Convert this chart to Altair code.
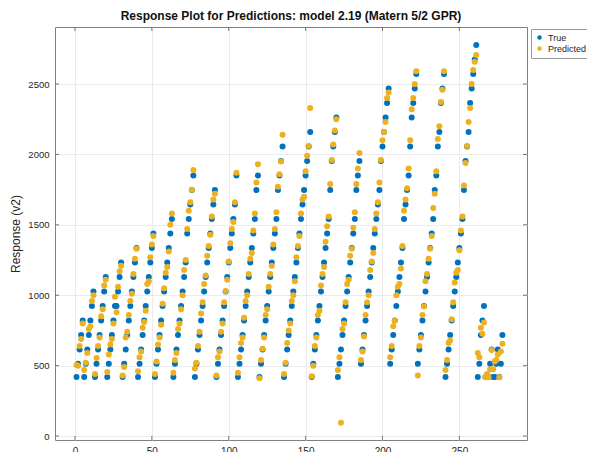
import altair as alt
import pandas as pd

# True response per record, group by group (record numbers run 1..N)
true_vals = [
    420, 513, 615, 718, 821,
    420, 513, 615, 718, 821, 923, 1026,
    420, 513, 615, 718, 821, 923, 1026, 1129,
    420, 513, 615, 718, 821, 923, 923, 1026, 1129, 1232,
    420, 513, 615, 718, 821, 923, 1026, 1129, 1232, 1335,
    420, 513, 615, 718, 821, 923, 1026, 1129, 1232, 1335, 1438,
    420, 513, 615, 718, 821, 923, 1026, 1129, 1232, 1335, 1438, 1541,
    420, 513, 615, 718, 821, 923, 1026, 1129, 1232, 1438, 1541, 1644, 1747, 1850,
    420, 513, 615, 718, 821, 923, 1026, 1129, 1232, 1335, 1438, 1541, 1644, 1747,
    420, 513, 615, 718, 821, 923, 1026, 1129, 1232, 1335, 1438, 1541, 1644, 1850,
    420, 513, 615, 718, 821, 923, 1026, 1129, 1232, 1335, 1438, 1541, 1747, 1850,
    420, 513, 615, 718, 821, 923, 1026, 1129, 1232, 1335, 1438, 1541, 1747, 1850, 1953, 2056,
    420, 513, 615, 718, 821, 923, 1026, 1129, 1232, 1335, 1438, 1541, 1644, 1747, 1850, 1953, 2056, 2159,
    420, 513, 615, 718, 821, 923, 1026, 1129, 1232, 1335, 1438, 1541, 1747, 1953, 2056, 2159, 2262,
    420, 513, 615, 718, 821, 923, 1026, 1129, 1232, 1335, 1438, 1541, 1747, 1850, 1953,
    513, 615, 718, 821, 923, 1026, 1129, 1232, 1335, 1438, 1541, 1644, 1747, 1953, 2056, 2159, 2262, 2365, 2468,
    513, 615, 718, 821, 923, 1026, 1129, 1232, 1335, 1541, 1644, 1747, 1850, 2056, 2262, 2365, 2468, 2571,
    513, 615, 718, 821, 923, 1026, 1129, 1232, 1335, 1438, 1541, 1747, 1850, 2056, 2159, 2365, 2468, 2571,
    420, 513, 615, 718, 821, 923, 1026, 1129, 1232, 1335, 1438, 1541, 1747, 1953, 2056, 2159, 2365, 2468, 2571, 2674, 2777,
    420, 513, 718, 821, 923,
    420, 420, 420, 513, 615, 420, 420, 513, 615, 420, 513, 718,
]

# Predicted response per record (same order)
pred_vals = [
    505, 500, 640, 690, 800,
    470, 520, 590, 760, 780, 960, 1000,
    440, 555, 640, 700, 850, 900, 1070, 1110,
    455, 580, 650, 690, 800, 990, 880, 1060, 1170, 1210,
    430, 490, 700, 740, 860, 960, 1010, 1150, 1260, 1330,
    460, 560, 600, 770, 810, 890, 1080, 1100, 1270, 1360, 1420,
    440, 530, 650, 700, 790, 940, 1050, 1160, 1200, 1310, 1500, 1580,
    450, 540, 590, 760, 800, 900, 1000, 1180, 1250, 1470, 1600, 1660, 1750, 1890,
    480, 520, 640, 740, 870, 950, 1080, 1140, 1280, 1350, 1430, 1560, 1680, 1720,
    430, 560, 600, 740, 800, 950, 1030, 1110, 1240, 1370, 1470, 1520, 1660, 1870,
    450, 560, 660, 700, 840, 960, 1000, 1150, 1260, 1300, 1460, 1580, 1800, 1930,
    410, 540, 620, 700, 860, 900, 1060, 1150, 1210, 1360, 1470, 1590, 1770, 1860, 1950, 2140,
    440, 520, 660, 750, 800, 960, 1000, 1100, 1270, 1350, 1420, 1580, 1680, 1700, 1880, 1990, 2060, 2330,
    425, 500, 640, 700, 860, 890, 1070, 1150, 1200, 1380, 1490, 1560, 1790, 1960, 2070, 2170, 2250,
    470, 560, 95, 760, 800, 950, 1080, 1110, 1280, 1330, 1480, 1590, 1790, 1900, 2010,
    540, 600, 707, 860, 950, 1000, 1180, 1240, 1300, 1470, 1580, 1660, 1800, 1960, 2100, 2160, 2230, 2400, 2440,
    560, 640, 780, 820, 1000, 1060, 1080, 1190, 1350, 1600, 1680, 1760, 1900, 2100, 2320, 2400, 2500, 2590,
    430, 640, 700, 860, 920, 1100, 1150, 1260, 1330, 1420, 1620, 1720, 1880, 2110, 2200, 2372, 2460, 2590,
    470, 540, 660, 680, 830, 950, 1090, 1160, 1180, 1320, 1460, 1560, 1780, 1940, 2060, 2230, 2330, 2500, 2600, 2658, 2706,
    589, 560, 769, 726, 806,
    418, 440, 418, 475, 612, 475, 529, 540, 580, 418, 600, 655,
]

x_ticks = [0, 50, 100, 150, 200, 250]
y_ticks = [0, 500, 1000, 1500, 2000, 2500]
series_names = ["True", "Predicted"]
series_colors = ["#0072BD", "#EDB120"]

n = len(true_vals)
records = list(range(1, n + 1))
df = pd.DataFrame({
    "record": records + records,
    "value": true_vals + pred_vals,
    "series": ["True"] * n + ["Predicted"] * n,
})

W, H = 472, 413
xs = alt.Scale(domain=[-13, 294], nice=False, zero=False)
ys = alt.Scale(domain=[-28, 2905], nice=False, zero=False)
FONT = "Liberation Sans"
AX = "#262626"

points = alt.Chart(df).mark_circle(size=36, opacity=1).encode(
    x=alt.X("record:Q", scale=xs, axis=alt.Axis(values=x_ticks, title=None, grid=True, format="d",
                                                  ticks=False, domain=False, labelPadding=6,
                                                  labelFontSize=10, labelColor=AX)),
    y=alt.Y("value:Q", scale=ys, axis=alt.Axis(values=y_ticks, title="Response (v2)", grid=True, format="d",
                                                 ticks=False, domain=False, labelPadding=6,
                                                 labelFontSize=9.5, labelColor=AX, titleColor=AX,
                                                 titleFontSize=12, titleFontWeight="normal", titlePadding=5)),
    color=alt.Color("series:N", scale=alt.Scale(domain=series_names, range=series_colors),
                    legend=alt.Legend(title=None, orient="none", legendX=476, legendY=2,
                                      symbolType="circle", symbolSize=20, labelFontSize=9,
                                      labelColor=AX, strokeColor="#9a9a9a", fillColor="white",
                                      padding=4, rowPadding=1, symbolStrokeWidth=0, labelLimit=60)),
)

xt = pd.DataFrame({"t": x_ticks})
yt = pd.DataFrame({"t": y_ticks})
tick_col = "#555555"
bottom_ticks = alt.Chart(xt).mark_rule(color=tick_col, strokeWidth=0.8).encode(
    x=alt.X("t:Q", scale=xs), y=alt.value(H), y2=alt.value(H - 4))
top_ticks = alt.Chart(xt).mark_rule(color=tick_col, strokeWidth=0.8).encode(
    x=alt.X("t:Q", scale=xs), y=alt.value(0), y2=alt.value(4))
left_ticks = alt.Chart(yt).mark_rule(color=tick_col, strokeWidth=0.8).encode(
    y=alt.Y("t:Q", scale=ys), x=alt.value(0), x2=alt.value(4))
right_ticks = alt.Chart(yt).mark_rule(color=tick_col, strokeWidth=0.8).encode(
    y=alt.Y("t:Q", scale=ys), x=alt.value(W), x2=alt.value(W - 4))

chart = alt.layer(points, bottom_ticks, top_ticks, left_ticks, right_ticks).properties(
    width=W, height=H,
    title=alt.Title("Response Plot for Predictions: model 2.19 (Matern 5/2 GPR)",
                    fontSize=12, fontWeight="bold", color="#111111", font=FONT, offset=4),
    autosize=alt.AutoSizeParams(type="none"),
    padding={"left": 47, "top": 19, "right": 60, "bottom": 12},
).configure(font=FONT).configure_view(
    stroke="#808080", strokeWidth=1
).configure_axis(
    gridColor="#e6e6e6", gridWidth=0.8, labelFont=FONT, titleFont=FONT
).configure_legend(labelFont=FONT)

chart.save("out.html", embed_options={"renderer": "svg", "actions": False})
